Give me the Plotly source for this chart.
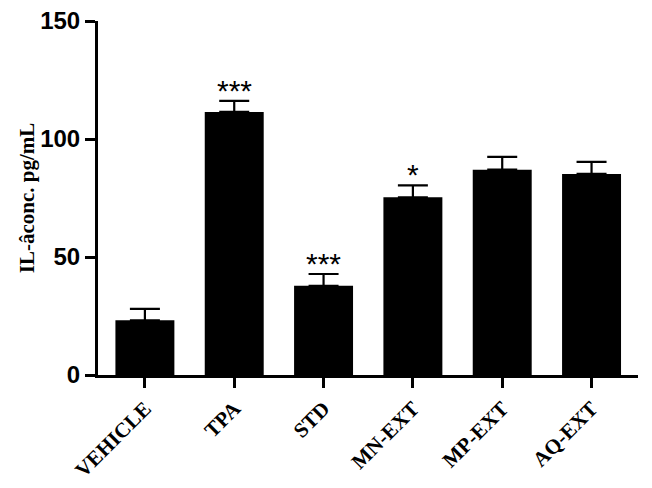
import plotly.graph_objects as go

categories = ["VEHICLE", "TPA", "STD", "MN-EXT", "MP-EXT", "AQ-EXT"]
means = [23.2, 111.5, 37.8, 75.3, 87.0, 85.2]
sem = [4.8, 4.7, 5.0, 5.1, 5.4, 5.1]
stars = ["", "***", "***", "*", "", ""]
y_ticks = [0, 50, 100, 150]

fig = go.Figure()
fig.add_trace(go.Bar(
    x=categories, y=means, width=0.66,
    marker=dict(color="black", line=dict(width=0)),
    error_y=dict(type="data", symmetric=False, array=sem,
                 arrayminus=[0] * len(sem), color="black",
                 thickness=2.2, width=15),
))

for c, m, e, s in zip(categories, means, sem, stars):
    if s:
        fig.add_annotation(x=c, y=m + e, text=s, showarrow=False,
                           yanchor="bottom", yshift=-8,
                           font=dict(family="Liberation Sans", size=30, color="black"))

fig.update_layout(
    width=644, height=480,
    margin=dict(l=90, r=14, t=13, b=113),
    plot_bgcolor="white", paper_bgcolor="white",
    showlegend=False, bargap=0.34,
)
fig.update_xaxes(
    range=[-0.525, 5.52], showline=True, linewidth=3, linecolor="black",
    ticks="outside", ticklen=10, tickwidth=3, tickcolor="black",
    tickangle=-45, automargin=False,
    tickfont=dict(family="Liberation Serif", size=21, color="black", weight="bold"),
    showgrid=False, zeroline=False,
)
fig.update_yaxes(
    range=[0, 150.02], tickvals=y_ticks, showline=True, linewidth=3, linecolor="black",
    ticks="outside", ticklen=10, tickwidth=3, tickcolor="black",
    automargin=False, ticklabeloverflow="allow",
    tickfont=dict(family="Liberation Sans", size=24, color="black", weight="bold"),
    showgrid=False, zeroline=False,
    title=dict(text="IL-âconc. pg/mL", standoff=0,
               font=dict(family="Liberation Serif", size=21, color="black", weight="bold")),
)

fig.write_html("out.html")
